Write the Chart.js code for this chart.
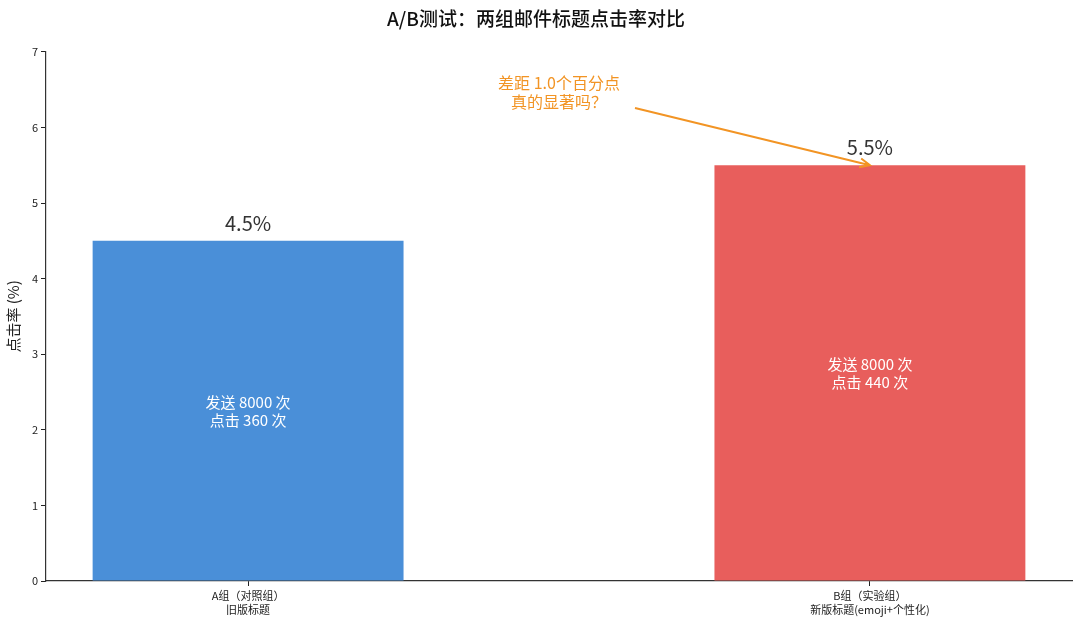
<!DOCTYPE html>
<html lang="zh">
<head>
    <meta charset="UTF-8">
    <title>A/B测试：两组邮件标题点击率对比</title>
    <script src="https://cdn.jsdelivr.net/npm/chart.js@4.4.0/dist/chart.umd.min.js"></script>
    <style>
        html, body { margin: 0; padding: 0; background: #fff; }
        #wrap { width: 1080px; height: 626px; }
    </style>
</head>
<body>
<div id="wrap"><canvas id="myChart"></canvas></div>

<script>
    // chart data
    var groups = [['A组（对照组）', '旧版标题'], ['B组（实验组）', '新版标题(emoji+个性化)']];
    var rates = [4.5, 5.5];
    var sent = [8000, 8000];
    var clicks = [360, 440];
    var barColors = ['#4A8FD8', '#E85E5C'];
    var yTicks = [0, 1, 2, 3, 4, 5, 6, 7];

    var noteLines = ['差距 1.0个百分点', '真的显著吗？'];
    var noteAt = { x: 0.5, y: 6.5 };   // data coords of the note text
    var noteTarget = { x: 1, y: 5.5 }; // arrow points at top of B

    var FONT = '"Noto Sans CJK SC", "Noto Sans", sans-serif';
    var orange = '#F29424';

    var points = rates.map(function (v, i) { return { x: i, y: v }; });

    // labels above / inside bars + the arrow note
    var labelPlugin = {
        id: 'barText',
        afterDatasetsDraw: function (chart) {
            var c = chart.ctx;
            var xs = chart.scales.x, ys = chart.scales.y;
            c.save();
            c.textAlign = 'center';

            rates.forEach(function (v, i) {
                var px = xs.getPixelForValue(i);
                c.fillStyle = '#333';
                c.font = '20px ' + FONT;
                c.textBaseline = 'alphabetic';
                c.fillText(v.toFixed(1) + '%', px, ys.getPixelForValue(v) - 10);

                var mid = ys.getPixelForValue(v / 2);
                c.fillStyle = '#fff';
                c.font = '15px ' + FONT;
                c.textBaseline = 'middle';
                c.fillText('发送 ' + sent[i] + ' 次', px, mid - 9);
                c.fillText('点击 ' + clicks[i] + ' 次', px, mid + 9);
            });

            // note
            var nx = xs.getPixelForValue(noteAt.x), ny = ys.getPixelForValue(noteAt.y);
            c.fillStyle = orange;
            c.font = '16px ' + FONT;
            c.textBaseline = 'middle';
            c.fillText(noteLines[0], nx, ny - 7);
            c.fillText(noteLines[1], nx, ny + 12);

            var tx = xs.getPixelForValue(noteTarget.x), ty = ys.getPixelForValue(noteTarget.y);
            var dx = tx - nx, dy = ty - ny;
            var t = Math.min(76 / Math.abs(dx), 24 / Math.abs(dy));
            var sx = nx + dx * t, sy = ny + dy * t;
            c.strokeStyle = orange;
            c.lineWidth = 2;
            c.beginPath();
            c.moveTo(sx, sy);
            c.lineTo(tx, ty);
            var ang = Math.atan2(ty - sy, tx - sx);
            var h = 11, spread = 0.42;
            c.moveTo(tx - h * Math.cos(ang - spread), ty - h * Math.sin(ang - spread));
            c.lineTo(tx, ty);
            c.lineTo(tx - h * Math.cos(ang + spread), ty - h * Math.sin(ang + spread));
            c.stroke();
            c.restore();
        }
    };

    var ctx = document.getElementById('myChart').getContext('2d');
    var chart = new Chart(ctx, {
        type: 'bar',
        data: {
            datasets: [{
                data: points,
                backgroundColor: barColors,
                borderWidth: 0,
                barPercentage: 0.5,
                categoryPercentage: 1
            }]
        },
        options: {
            responsive: true,
            maintainAspectRatio: false,
            animation: false,
            layout: { padding: { left: 0, right: 8, top: 0, bottom: 0 } },
            plugins: {
                legend: { display: false },
                tooltip: { enabled: false },
                title: {
                    display: true,
                    text: 'A/B测试：两组邮件标题点击率对比',
                    color: '#111',
                    font: { family: FONT, size: 19, weight: 500, lineHeight: 1.2 },
                    padding: { top: 7, bottom: 22 }
                }
            },
            scales: {
                x: {
                    type: 'linear',
                    min: -0.325,
                    max: 1.325,
                    offset: false,
                    afterBuildTicks: function (scale) {
                        scale.ticks = groups.map(function (g, i) { return { value: i }; });
                    },
                    afterFit: function (scale) { scale.height = 45; },
                    ticks: {
                        autoSkip: false,
                        maxRotation: 0,
                        color: '#222',
                        padding: 3,
                        font: { family: FONT, size: 11, lineHeight: 1.25 },
                        callback: function (v) { return groups[v]; }
                    },
                    grid: { display: true, offset: false, drawOnChartArea: false, drawTicks: true, tickLength: 5, color: '#222', lineWidth: 1 },
                    border: { display: true, color: '#333', width: 1.2 }
                },
                y: {
                    min: 0,
                    max: 7,
                    afterBuildTicks: function (scale) {
                        scale.ticks = yTicks.map(function (v) { return { value: v }; });
                    },
                    afterFit: function (scale) { scale.width = 46; },
                    ticks: {
                        color: '#222',
                        padding: 3,
                        font: { family: FONT, size: 11 }
                    },
                    title: {
                        display: true,
                        text: '点击率 (%)',
                        color: '#222',
                        font: { family: FONT, size: 15 },
                        padding: { top: 4, bottom: 2 }
                    },
                    grid: { display: true, drawOnChartArea: false, tickLength: 5, color: '#222', lineWidth: 1 },
                    border: { display: true, color: '#333', width: 1.2 }
                }
            }
        },
        plugins: [labelPlugin]
    });
</script>
</body>
</html>
